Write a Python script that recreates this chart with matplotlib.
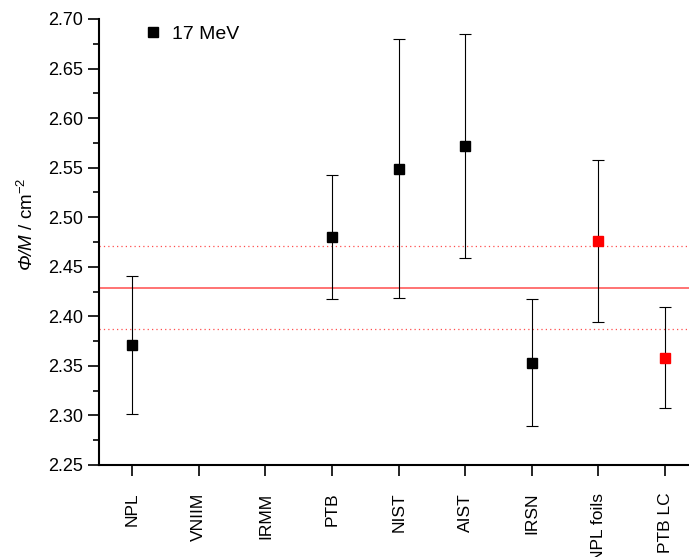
import matplotlib
matplotlib.use("Agg")
import matplotlib.pyplot as plt
from matplotlib.ticker import MultipleLocator, FormatStrFormatter
from matplotlib.lines import Line2D
import numpy as np

plt.rcParams['font.family'] = ['Liberation Sans', 'DejaVu Sans']
plt.rcParams['mathtext.fontset'] = 'custom'
plt.rcParams['mathtext.it'] = 'Liberation Sans:italic'
plt.rcParams['mathtext.rm'] = 'Liberation Sans'
# mathtext keeps capital greek upright in \mathit, so use bf slot for italic
plt.rcParams['mathtext.bf'] = 'Liberation Sans:italic'

# labs and measured values (phi/M, cm^-2)
labs = ["NPL", "VNIIM", "IRMM", "PTB", "NIST", "AIST", "IRSN", "NPL foils", "PTB LC"]
black_idx = [0, 3, 4, 5, 6]
black_val = [2.371, 2.480, 2.549, 2.572, 2.353]
black_lo = [2.301, 2.417, 2.418, 2.459, 2.289]
black_hi = [2.441, 2.543, 2.680, 2.685, 2.417]
red_idx = [7, 8]
red_val = [2.476, 2.358]
red_lo = [2.394, 2.307]
red_hi = [2.558, 2.409]

ref_mean = 2.429
ref_band = [2.387, 2.471]

fig = plt.figure(figsize=(6.89, 5.57), dpi=100)
ax = fig.add_axes([0.1437, 0.1652, 0.8563, 0.8007])

x_all = np.arange(1, len(labs) + 1)
xb = x_all[black_idx]
xr = x_all[red_idx]

ax.axhline(ref_mean, color="#ff4d4d", lw=1.1, zorder=1)
for v in ref_band:
    ax.axhline(v, color="#ff4d4d", lw=0.9, ls=(0, (1, 2.5)), zorder=1)

bv = np.array(black_val)
ax.errorbar(xb, bv, yerr=[bv - np.array(black_lo), np.array(black_hi) - bv],
            fmt="s", color="black", ms=7, ecolor="black", elinewidth=0.8,
            capsize=4, capthick=0.8, zorder=3)
rv = np.array(red_val)
ax.errorbar(xr, rv, yerr=[rv - np.array(red_lo), np.array(red_hi) - rv],
            fmt="s", color="red", ms=7, ecolor="black", elinewidth=0.8,
            capsize=4, capthick=0.8, zorder=3)

ax.set_xlim(0.5, 9.36)
ax.set_ylim(2.25, 2.70)
ax.set_xticks(x_all)
ax.set_xticklabels(labs, rotation=90, fontsize=12.5)
ax.yaxis.set_major_locator(MultipleLocator(0.05))
ax.yaxis.set_minor_locator(MultipleLocator(0.025))
ax.yaxis.set_major_formatter(FormatStrFormatter("%.2f"))
ax.tick_params(axis="y", which="major", length=8, width=1.2, labelsize=13, direction="out")
ax.tick_params(axis="y", which="minor", length=4, width=1.2, direction="out")
ax.tick_params(axis="x", length=8, width=1.2, pad=12, direction="out")

for s in ["top", "right"]:
    ax.spines[s].set_visible(False)
for s in ["left", "bottom"]:
    ax.spines[s].set_linewidth(1.5)

ax.set_ylabel(r"$\mathbf{Φ/M}$ / cm$^{-2}$", fontsize=13.5)
ax.yaxis.set_label_coords(-0.105, 0.54)

handle = Line2D([], [], marker="s", color="black", ls="none", ms=7)
ax.legend([handle], ["17 MeV"], loc="upper left", frameon=False, fontsize=14,
          handletextpad=0.5, handlelength=1.0, bbox_to_anchor=(0.045, 1.025))

fig.savefig("out.png", dpi=100)
